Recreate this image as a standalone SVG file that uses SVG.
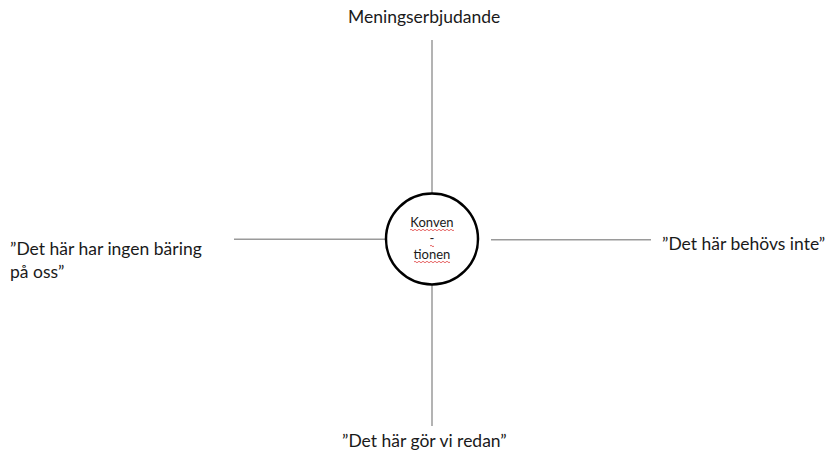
<svg xmlns="http://www.w3.org/2000/svg" width="826" height="456" viewBox="0 0 826 456">
<style>
.lbl{font-family:Lato,"Open Sans","Liberation Sans",sans-serif;font-size:17.5px;fill:#1a1a1a}
.c{font-family:Lato,"Open Sans","Liberation Sans",sans-serif;font-size:13px;fill:#1a1a1a;text-anchor:middle}
.ax{stroke:#9a9a9a;stroke-width:1.5;fill:none}
.sq{stroke:#e04040;stroke-width:0.8;fill:none}
</style>
<rect width="826" height="456" fill="#fff"/>
<g id="connectors">
<line class="ax" x1="432" y1="40" x2="432" y2="194"/>
<line class="ax" x1="432" y1="284" x2="432" y2="426"/>
<line class="ax" x1="234" y1="239.3" x2="386" y2="239.3"/>
<line class="ax" x1="491" y1="239.7" x2="651" y2="239.7"/>
</g>
<g id="center">
<ellipse cx="432" cy="239" rx="46" ry="45.5" fill="#fff" stroke="#000" stroke-width="2.5"/>
<text class="c" x="432" y="227">Konven</text>
<text class="c" x="432" y="243">-</text>
<text class="c" x="432" y="259">tionen</text>
<path class="sq" d="M410 230 q1 -1.5 2 0 t2 0 t2 0 t2 0 t2 0 t2 0 t2 0 t2 0 t2 0 t2 0 t2 0 t2 0 t2 0 t2 0 t2 0 t2 0 t2 0 t2 0 t2 0 t2 0 t2 0 t2 0"/>
<path class="sq" d="M430 246 q1 -1.5 2 0 t2 0"/>
<path class="sq" d="M414 262 q1 -1.5 2 0 t2 0 t2 0 t2 0 t2 0 t2 0 t2 0 t2 0 t2 0 t2 0 t2 0 t2 0 t2 0 t2 0 t2 0 t2 0 t2 0 t2 0"/>
</g>
<g id="top"><text class="lbl" x="348" y="23">Meningserbjudande</text></g>
<g id="left"><text class="lbl" x="10" y="255">”Det här har ingen bäring</text><text class="lbl" x="10" y="278">på oss”</text></g>
<g id="right"><text class="lbl" x="662" y="250">”Det här behövs inte”</text></g>
<g id="bottom"><text class="lbl" x="342" y="447">”Det här gör vi redan”</text></g>
</svg>
